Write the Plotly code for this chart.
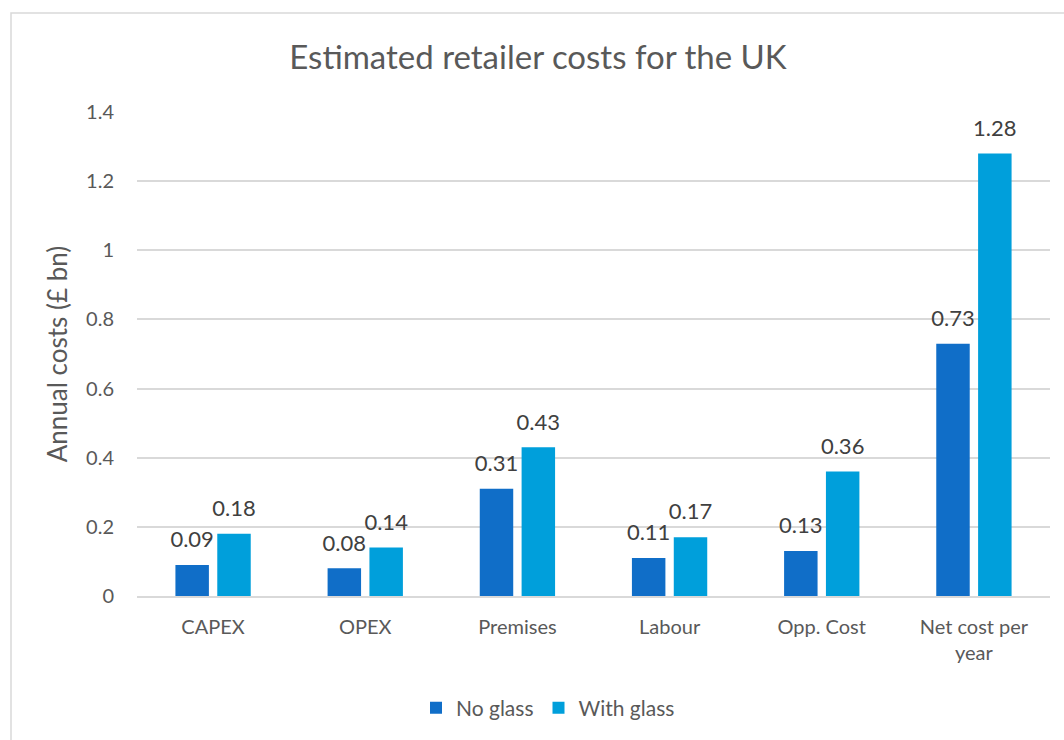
import plotly.graph_objects as go

categories = ["CAPEX", "OPEX", "Premises", "Labour", "Opp. Cost", "Net cost per<br>year"]
no_glass = [0.09, 0.08, 0.31, 0.11, 0.13, 0.73]
with_glass = [0.18, 0.14, 0.43, 0.17, 0.36, 1.28]
y_ticks = [0, 0.2, 0.4, 0.6, 0.8, 1, 1.2, 1.4]
y_tick_text = ["0", "0.2", "0.4", "0.6", "0.8", "1", "1.2", "1.4"]

FONT = "Lato, 'Open Sans', sans-serif"
GREY = "#595959"
LABEL_FONT = dict(family=FONT, size=22, color="#404040")

series = [
    ("No glass", no_glass, "#106EC8", "ng"),
    ("With glass", with_glass, "#009FDB", "wg"),
]

fig = go.Figure()
for name, values, color, group in series:
    fig.add_trace(go.Bar(
        name=name, x=categories, y=values, offsetgroup=group,
        marker=dict(color=color, line=dict(width=0)),
    ))
# value labels, aligned to each bar and lifted a little above its top
for name, values, color, group in series:
    fig.add_trace(go.Scatter(
        x=categories, y=values, offsetgroup=group,
        mode="markers+text", showlegend=False, hoverinfo="skip",
        marker=dict(size=18, opacity=0),
        text=[f"{v:.2f}" for v in values], textposition="top center",
        textfont=LABEL_FONT, cliponaxis=False,
    ))

fig.update_layout(
    width=1064, height=740,
    paper_bgcolor="white", plot_bgcolor="white",
    margin=dict(l=137, r=14, t=112, b=144),
    barmode="group", bargap=0.45, bargroupgap=0.2,
    scattermode="group",
    title=dict(
        text="Estimated retailer costs for the UK",
        x=538 / 1064, xref="container", xanchor="center",
        y=683 / 740, yanchor="middle",
        font=dict(family=FONT, size=33, color=GREY),
    ),
    font=dict(family=FONT, size=20, color=GREY),
    legend=dict(
        orientation="h", x=548 / 1064, xanchor="center", xref="container",
        y=32 / 740, yref="container", yanchor="middle",
        font=dict(family=FONT, size=21, color=GREY),
        traceorder="normal",
    ),
    showlegend=True,
    shapes=[dict(
        type="rect", xref="paper", yref="paper",
        x0=-126 / 913, x1=1.1, y0=-0.4, y1=1 + 99 / 484,
        line=dict(color="#D9D9D9", width=1.5), fillcolor="rgba(0,0,0,0)",
        layer="below",
    )],
)

fig.update_xaxes(
    showgrid=False, showline=True, linecolor="#D9D9D9", linewidth=1.5,
    ticks="", ticklabelstandoff=12,
    tickfont=dict(family=FONT, size=20, color=GREY),
)
fig.update_yaxes(
    range=[0, 1.4], tickvals=y_ticks, ticktext=y_tick_text,
    showgrid=True, gridcolor="#D9D9D9", gridwidth=1.5,
    zeroline=False, showline=False, ticks="",
    ticklabelstandoff=22,
    tickfont=dict(family=FONT, size=20, color=GREY),
    title=dict(text="Annual costs (£ bn)", standoff=10,
               font=dict(family=FONT, size=26, color=GREY)),
)

fig.write_html("out.html")
